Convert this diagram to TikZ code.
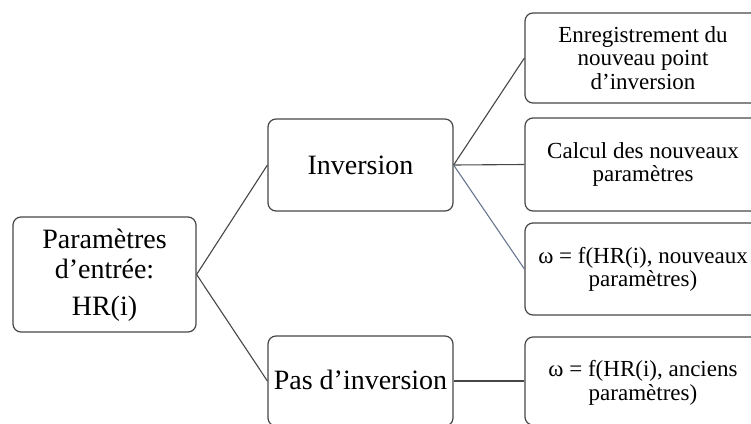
\documentclass[tikz,border=0pt]{standalone}
\usepackage{fontspec}
\setmainfont{Liberation Serif}
\definecolor{edgegray}{RGB}{70,70,70}
\definecolor{slate}{RGB}{105,118,145}
\tikzset{
  boxshape/.style={draw=edgegray, line width=1.2pt, rounded corners=8pt, inner sep=0pt},
  bigtext/.style={font=\fontsize{28}{30}\selectfont, align=center, inner sep=0pt, anchor=base},
  smalltext/.style={font=\fontsize{23}{23.2}\selectfont, align=center, inner sep=0pt, anchor=base},
  conn/.style={draw=edgegray, line width=1.1pt},
}
\begin{document}
\begin{tikzpicture}[x=1pt,y=-1pt]
\useasboundingbox (0,0) rectangle (751,423);
\clip (0,0) rectangle (751,423);
% boxes
\node[boxshape, minimum width=183pt, minimum height=115pt] (inp) at (104.5,274.5) {};
\node[boxshape, minimum width=185pt, minimum height=92pt] (inv) at (360.5,165) {};
\node[boxshape, minimum width=185pt, minimum height=90pt] (pas) at (360.5,381) {};
\node[boxshape, minimum width=236pt, minimum height=90pt] (r1) at (643,58) {};
\node[boxshape, minimum width=236pt, minimum height=93pt] (r2) at (643,164.5) {};
\node[boxshape, minimum width=236pt, minimum height=92pt] (r3) at (643,269) {};
\node[boxshape, minimum width=236pt, minimum height=88pt] (r4) at (643,381) {};
% texts (anchored at the baseline of their last line)
\node[bigtext] (tinp) at (104.5,315) {Paramètres\\d’entrée:\\[7pt]HR(i)};
\node[bigtext] (tinv) at (360.5,174) {Inversion};
\node[bigtext] (tpas) at (360.5,389) {Pas d’inversion};
\node[smalltext] (tr1) at (643,89) {Enregistrement du\\nouveau point\\d’inversion};
\node[smalltext] (tr2) at (643,181.7) {Calcul des nouveaux\\paramètres};
\node[smalltext] (tr3) at (643,286.7) {ω = f(HR(i), nouveaux\\paramètres)};
\node[smalltext] (tr4) at (643,400) {ω = f(HR(i), anciens\\paramètres)};
% connectors
\draw[conn] (inp.east) -- (inv.west);
\draw[conn] (inp.east) -- (pas.west);
\draw[conn] (inv.east) -- (r1.west);
\draw[conn] (inv.east) -- (r2.west);
\draw[conn, draw=slate] (inv.east) -- (r3.west);
\draw[conn] (pas.east) -- (r4.west);
\end{tikzpicture}
\end{document}
